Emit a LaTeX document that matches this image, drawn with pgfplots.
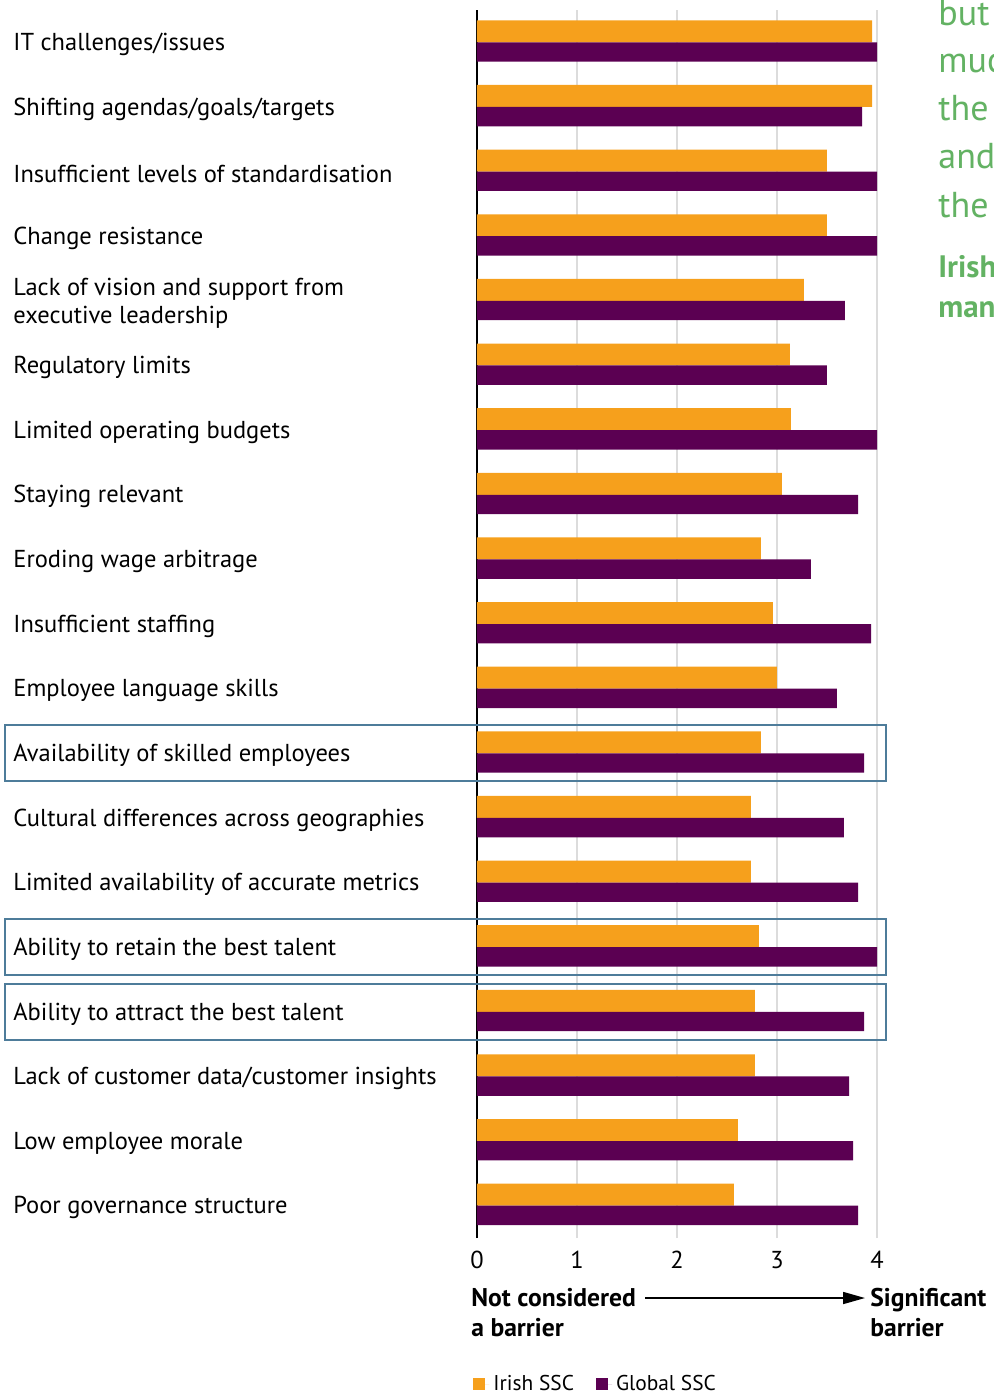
\documentclass[border=0pt]{standalone}
\usepackage{pgfplots}
\pgfplotsset{compat=1.18}
\usepackage{fontspec}
\setmainfont{PT Sans}
\usetikzlibrary{arrows.meta}
\definecolor{irish}{HTML}{F6A01C}
\definecolor{global}{HTML}{5B0052}
\definecolor{boxcol}{HTML}{4E7C9A}
\definecolor{gridc}{HTML}{DCDCDC}
\definecolor{greentxt}{HTML}{63B263}
\newcommand{\lab}{\fontsize{12.25pt}{14pt}\selectfont}
\newcommand{\blab}{\fontsize{12.8pt}{14pt}\selectfont\bfseries}
\begin{document}
\begin{tikzpicture}
\useasboundingbox (0,0) rectangle (497pt,-697pt);
\begin{axis}[
  at={(238.5pt,-619pt)}, anchor=south west,
  scale only axis, width=202.5pt, height=614pt,
  xmin=0, xmax=4.05, ymin=-0.5, ymax=18.5,
  axis lines*=left,
  x axis line style={draw=none},
  y axis line style={black, line width=1pt},
  xmajorgrids, grid style={gridc, line width=1pt},
  major tick length=0pt,
  xtick={0,1,2,3,4},
  ytick={0,...,18},
  yticklabels={Poor governance structure,
    Low employee morale,
    Lack of customer data/customer insights,
    Ability to attract the best talent,
    Ability to retain the best talent,
    Limited availability of accurate metrics,
    Cultural differences across geographies,
    Availability of skilled employees,
    Employee language skills,
    Insufficient staffing,
    Eroding wage arbitrage,
    Staying relevant,
    Limited operating budgets,
    Regulatory limits,
    {Lack of vision and support from\\executive leadership},
    Change resistance,
    Insufficient levels of standardisation,
    Shifting agendas/goals/targets,
    IT challenges/issues},
  yticklabel style={anchor=west, align=left, inner sep=0pt, xshift=-232pt, yshift=-1pt, font=\lab},
  xticklabel style={font=\lab, yshift=-3pt, /pgf/number format/assume math mode=true},
  clip=false,
  legend style={at={(0,0)}, anchor=west, xshift=-2pt, yshift=-73pt, draw=none, fill=none,
    font=\fontsize{10.7pt}{12pt}\selectfont, inner sep=0pt,
    /tikz/every even column/.append style={column sep=9pt}},
  legend columns=2,
  legend image code/.code={\path (0pt,0pt) -- (8pt,0pt); \fill[#1, draw=none] (0pt,-3pt) rectangle (6pt,3pt);},
]
\addplot[xbar, fill=irish, draw=none, bar width=0.34, bar shift=0.17] coordinates {
 (3.95,18) (3.95,17) (3.50,16) (3.50,15) (3.27,14) (3.13,13) (3.14,12) (3.05,11)
 (2.84,10) (2.96,9) (3.00,8) (2.84,7) (2.74,6) (2.74,5) (2.82,4) (2.78,3)
 (2.78,2) (2.61,1) (2.57,0)};
\addlegendentry{Irish SSC}
\addplot[xbar, fill=global, draw=none, bar width=0.30, bar shift=-0.15] coordinates {
 (4.00,18) (3.85,17) (4.00,16) (4.00,15) (3.68,14) (3.50,13) (4.00,12) (3.81,11)
 (3.34,10) (3.94,9) (3.60,8) (3.87,7) (3.67,6) (3.81,5) (4.00,4) (3.87,3)
 (3.72,2) (3.76,1) (3.81,0)};
\addlegendentry{Global SSC}
\draw[boxcol, line width=1pt] (axis cs:-4.72,6.567) rectangle (axis cs:4.09,7.433);
\draw[boxcol, line width=1pt] (axis cs:-4.72,3.567) rectangle (axis cs:4.09,4.433);
\draw[boxcol, line width=1pt] (axis cs:-4.72,2.567) rectangle (axis cs:4.09,3.433);
\end{axis}
% bottom annotation
\node[anchor=base west, inner sep=0pt, font=\blab] at (235.5pt,-653pt) {Not considered};
\node[anchor=base west, inner sep=0pt, font=\blab] at (235.5pt,-668pt) {a barrier};
\node[anchor=base west, inner sep=0pt, font=\blab] at (435pt,-653pt) {Significant};
\node[anchor=base west, inner sep=0pt, font=\blab] at (435pt,-668pt) {barrier};
\draw[line width=0.8pt, -{Triangle[length=11pt, width=6pt]}] (322.5pt,-649pt) -- (432.5pt,-649pt);
% cut-off side text
\begin{scope}[every node/.style={anchor=base west, inner sep=0pt, text=greentxt}]
\node[font=\fontsize{18pt}{20pt}\selectfont] at (469pt,-12.5pt) {but};
\node[font=\fontsize{18pt}{20pt}\selectfont] at (469pt,-36pt) {much};
\node[font=\fontsize{18pt}{20pt}\selectfont] at (469pt,-60pt) {the};
\node[font=\fontsize{18pt}{20pt}\selectfont] at (469pt,-84pt) {and};
\node[font=\fontsize{18pt}{20pt}\selectfont] at (469pt,-108.5pt) {the};
\node[font=\fontsize{15.5pt}{17pt}\selectfont\bfseries] at (469pt,-138.5pt) {Irish};
\node[font=\fontsize{15.5pt}{17pt}\selectfont\bfseries] at (469pt,-158.5pt) {many};
\end{scope}
\end{tikzpicture}
\end{document}
